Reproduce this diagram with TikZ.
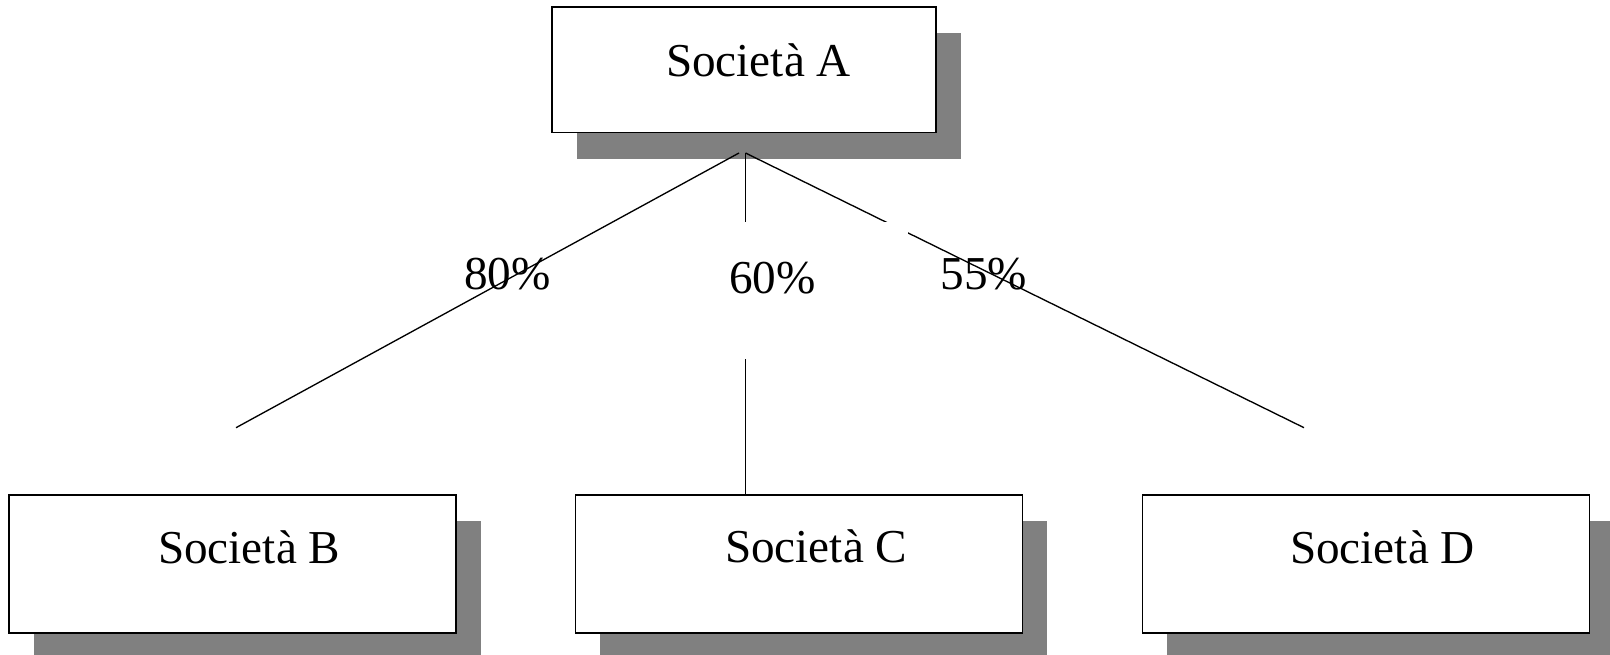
\documentclass[tikz,border=0pt]{standalone}
\usepackage{fontspec}
\setmainfont{Liberation Serif}
\usetikzlibrary{shadows}
\definecolor{shgray}{RGB}{128,128,128}
\begin{document}
\begin{tikzpicture}[x=0.75pt,y=-0.75pt,
  company/.style={draw=black,line width=1.2pt,fill=white,inner sep=0pt,outer sep=0pt,
    minimum height=103.3pt,
    drop shadow={shadow xshift=18.75pt,shadow yshift=-19.5pt,fill=shgray,opacity=1}},
  cname/.style={anchor=base west,inner sep=0pt,outer sep=0pt,font=\fontsize{35.4pt}{40pt}\selectfont},
  pct/.style={anchor=base west,inner sep=0pt,outer sep=0pt,font=\fontsize{35.4pt}{40pt}\selectfont},
  link/.style={line width=1pt,line cap=butt}]
\useasboundingbox (0,0) rectangle (1610,655);
\clip (0,0) rectangle (1610,655);

% companies
\node[company,minimum width=287.8pt,minimum height=94.05pt] (A) at (744.15,70) {};
\node[company,minimum width=335.25pt] (B) at (232.5,563.85) {};
\node[company,minimum width=335.25pt] (C) at (798.85,563.85) {};
\node[company,minimum width=335.25pt] (D) at (1365.8,563.85) {};

\node[cname] (tA) at (666,76.7) {Società A};
\node[cname] (tB) at (158,563.3) {Società B};
\node[cname] (tC) at (725,562.7) {Società C};
\node[cname] (tD) at (1290,563) {Società D};

% shareholding links
\coordinate (apexL) at (739,153);
\coordinate (apex) at (745.5,153);
\coordinate (endB) at (236,427.7);
\coordinate (endD) at (1304,427.7);

\draw[link] (apexL) -- (endB);
\draw[link] (apex) -- (apex |- C.north);
\draw[link] (apex) -- (endD);

% percentages
\node[fill=white,inner sep=0pt,outer sep=0pt,minimum width=206.5pt,minimum height=103.2pt] (p60box) at (770.65,290.5) {};
\node[pct] (p80) at (464,289.3) {80\%};
\node[pct] (p60) at (729,293.3) {60\%};
\node[pct] (p55) at (940.5,289.3) {55\%};
\end{tikzpicture}
\end{document}
